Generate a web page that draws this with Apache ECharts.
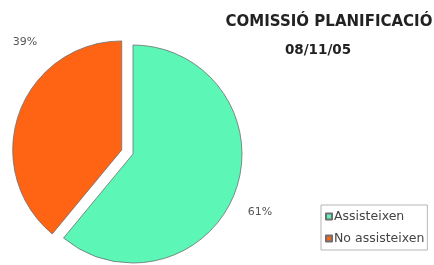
<!doctype html>
<html lang="ca">
<head>
    <meta charset="UTF-8">
    <title>Comissió planificació</title>
    <script src="https://cdn.jsdelivr.net/npm/echarts@6/dist/echarts.min.js"></script>
    <style>
        html, body { margin: 0; padding: 0; background: #fff; }
        #main { width: 434px; height: 265px; }
    </style>
</head>
<body>
<div id="main"></div>
<script>
    // dades del gràfic
    var categories = ['Assisteixen', 'No assisteixen'];
    var values = [61, 39];
    var colors = ['#5cf7b6', '#ff6414'];
    var titleText = 'COMISSIÓ PLANIFICACIÓ';
    var dateText = '08/11/05';

    // posició de les etiquetes de percentatge (com a l'original)
    var labelPos = [[260, 212], [25, 42]];

    var myChart = echarts.init(document.getElementById('main'));

    var total = values.reduce(function (a, b) { return a + b; }, 0);

    var pieData = categories.map(function (name, i) {
        return {
            name: name,
            value: values[i],
            selected: i === 1,
            itemStyle: { color: colors[i] }
        };
    });

    // etiquetes de percentatge fora del pastís
    var pctLabels = values.map(function (v, i) {
        return {
            type: 'text',
            x: labelPos[i][0],
            y: labelPos[i][1],
            style: {
                text: Math.round(v / total * 100) + '%',
                fill: '#555',
                font: '11px "DejaVu Sans"',
                textAlign: 'center',
                textVerticalAlign: 'middle'
            }
        };
    });

    var option = {
        animation: false,
        title: [
            {
                text: titleText,
                left: 324, top: 10,
                textAlign: 'center',
                textStyle: { fontFamily: 'DejaVu Sans', fontWeight: 'bold', fontSize: 15, color: '#222' }
            },
            {
                text: dateText,
                left: 313, top: 38,
                textAlign: 'center',
                textStyle: { fontFamily: 'DejaVu Sans', fontWeight: 'bold', fontSize: 13.5, color: '#222' }
            }
        ],
        legend: {
            orient: 'vertical',
            left: 321, top: 205,
            data: categories,
            icon: 'rect',
            itemWidth: 6, itemHeight: 6,
            itemGap: 9,
            padding: [5, 3, 5, 4],
            borderColor: '#b5b5b5',
            borderWidth: 1,
            selectedMode: false,
            textStyle: { fontFamily: 'DejaVu Sans', fontSize: 12.5, color: '#444', padding: [0, 0, 0, -3] }
        },
        graphic: pctLabels,
        series: [
            {
                type: 'pie',
                center: [133, 154],
                radius: 109,
                startAngle: 90,
                clockwise: true,
                selectedMode: 'multiple',
                selectedOffset: 12,
                data: pieData,
                itemStyle: { borderColor: '#6f6f6f', borderWidth: 0.8 },
                label: { show: false },
                labelLine: { show: false },
                emphasis: { disabled: true }
            }
        ]
    };
    myChart.setOption(option);
</script>
</body>
</html>
